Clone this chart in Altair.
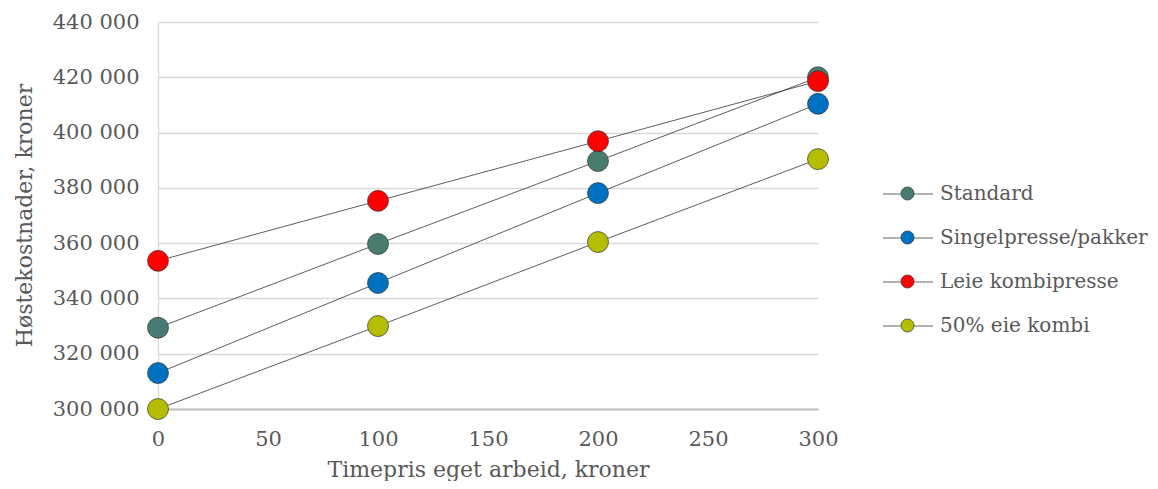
import altair as alt
import pandas as pd

series = ["Standard", "Singelpresse/pakker", "Leie kombipresse", "50% eie kombi"]
timepris = [0, 100, 200, 300]
standard = [329400, 359700, 389700, 420000]
singel = [313000, 345600, 378100, 410400]
leie = [353600, 375300, 396900, 418600]
eie50 = [300000, 330000, 360400, 390400]
colors = ["#487C70", "#0070C0", "#FF0000", "#B5BD00"]
x_ticks = [0, 50, 100, 150, 200, 250, 300]
y_ticks = [300000, 320000, 340000, 360000, 380000, 400000, 420000, 440000]

values = [standard, singel, leie, eie50]
rows = []
for i, (name, vals) in enumerate(zip(series, values)):
    for x, y in zip(timepris, vals):
        rows.append({"serie": name, "serie_leg": name + " ", "order": i, "x": x, "y": y})
df = pd.DataFrame(rows)

FONT = "DejaVu Serif"
GRAY = "#595959"

x_enc = alt.X(
    "x:Q",
    scale=alt.Scale(domain=[0, 300], nice=False),
    axis=alt.Axis(
        values=x_ticks, grid=False, ticks=False, domainColor="#BFBFBF", domainWidth=2,
        labelFont=FONT, labelFontSize=21, labelColor=GRAY, labelPadding=19, labelFlush=False,
        title="Timepris eget arbeid, kroner", titleFont=FONT, titleFontSize=22,
        titleFontWeight="normal", titleColor=GRAY, titleX=330, titleY=67,
        titleBaseline="alphabetic", titleAlign="center",
    ),
)
y_enc = alt.Y(
    "y:Q",
    scale=alt.Scale(domain=[300000, 440000], nice=False, zero=False),
    axis=alt.Axis(
        values=y_ticks, grid=True, gridColor="#D9D9D9", gridWidth=1.3, ticks=False,
        domainColor="#D9D9D9", domainWidth=1.3, labelFlush=False,
        labelExpr="replace(format(datum.value, ','), ',', ' ')",
        labelFont=FONT, labelFontSize=21, labelColor=GRAY, labelPadding=19,
        title="Høstekostnader, kroner", titleFont=FONT, titleFontSize=22,
        titleFontWeight="normal", titleColor=GRAY, titleAngle=-90, titleX=-134,
        titleY=193, titleBaseline="middle", titleAlign="center",
    ),
)

base = alt.Chart(df)

lines = base.mark_line(color="#333333", strokeWidth=0.8).encode(
    x=x_enc, y=y_enc, detail="serie:N", order="x:Q"
)

leg_common = dict(
    orient="none", title=None, symbolSize=2500, labelFont=FONT, labelFontSize=20,
    labelColor=GRAY, labelOffset=7, rowPadding=8, legendX=724, legendY=146,
    labelLimit=400,
)

legend_lines = base.transform_filter("false").mark_line(strokeWidth=1.5).encode(
    x="x:Q", y="y:Q",
    stroke=alt.Stroke(
        "serie_leg:N",
        scale=alt.Scale(domain=[s + " " for s in series], range=["#999999"] * 4),
        legend=alt.Legend(symbolType="stroke", symbolStrokeWidth=1.5, labelOpacity=0,
                          zindex=0, **leg_common),
    ),
)

circle_path = "M0.26,0A0.26,0.26,0,1,1,-0.26,0A0.26,0.26,0,1,1,0.26,0Z"
points = base.mark_point(filled=True, size=440, stroke="#333333", strokeWidth=0.7, opacity=1).encode(
    x="x:Q", y="y:Q",
    fill=alt.Fill(
        "serie:N",
        scale=alt.Scale(domain=series, range=colors),
        legend=alt.Legend(symbolType=circle_path, symbolStrokeColor="#333333",
                          symbolStrokeWidth=0.7, zindex=1, **leg_common),
    ),
    order="order:Q",
)

chart = alt.layer(lines, legend_lines, points).properties(
    width=660, height=387,
    autosize=alt.AutoSizeParams(type="none"),
    padding={"left": 150, "top": 14, "right": 332, "bottom": 72},
).configure_view(stroke=None)

chart.save("out.html", embed_options={"renderer": "svg", "actions": False})
